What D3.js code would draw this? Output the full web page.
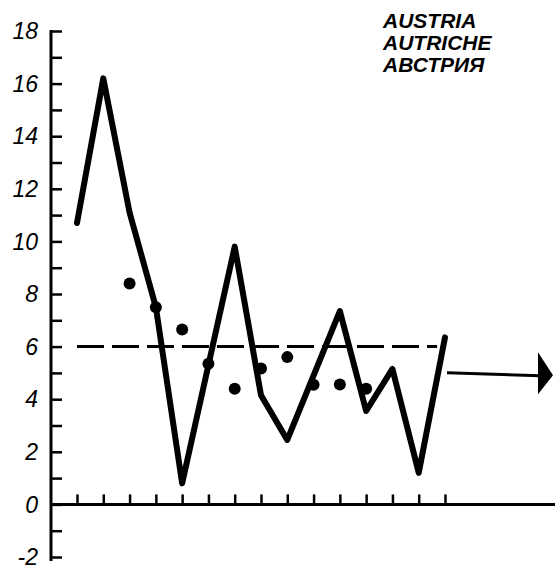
<!DOCTYPE html>
<html>
<head>
<meta charset="utf-8">
<script src="https://cdn.jsdelivr.net/npm/d3@7"></script>
<style>
  html, body { margin: 0; padding: 0; background: #fff; }
  svg { display: block; }
</style>
</head>
<body>
<script>
// ---- data ----
const titleLines = ["AUSTRIA", "AUTRICHE", "АВСТРИЯ"];
const xTicks = [0,1,2,3,4,5,6,7,8,9,10,11,12,13,14];
const yTicks = [-2,-1,0,1,2,3,4,5,6,7,8,9,10,11,12,13,14,15,16,17,18];
const yTickLabels = [-2,0,2,4,6,8,10,12,14,16,18];
const lineX = [0,1,2,3,4,6,7,8,10,11,12,13,14];
const lineY = [10.7,16.2,11.1,7.5,0.8,9.8,4.15,2.45,7.35,3.55,5.15,1.2,6.35];
const dotX = [2,3,4,5,6,7,8,9,10,11];
const dotY = [8.4,7.5,6.65,5.35,4.4,5.17,5.6,4.55,4.56,4.4];
const meanValue = 6.0;
const meanSpan = [0, 13.7];

// ---- drawing ----
const W = 555, H = 569;
const svg = d3.select("body").append("svg").attr("width", W).attr("height", H);

const x = d3.scaleLinear().domain([0, 14]).range([77, 445]);
const y = d3.scaleLinear().domain([-2, 18]).range([557, 31]);
const axisX = 51;

const labelFont = "'Liberation Sans', Arial, sans-serif";

// y axis
const yAxis = d3.axisRight(y).tickValues(yTicks).tickSize(11).tickFormat("");
const gy = svg.append("g").attr("transform", `translate(${axisX},0)`).call(yAxis);
gy.select(".domain").remove();
gy.selectAll(".tick line").attr("stroke", "#000").attr("stroke-width", 2.5);
svg.append("line")
  .attr("x1", axisX).attr("x2", axisX)
  .attr("y1", y(18) - 1).attr("y2", y(-2) + 4)
  .attr("stroke", "#000").attr("stroke-width", 3);

// y tick labels
svg.append("g").selectAll("text").data(yTickLabels).join("text")
  .attr("x", 38).attr("y", d => y(d))
  .attr("dy", "0.36em")
  .attr("text-anchor", "end")
  .attr("font-family", labelFont)
  .attr("font-style", "italic")
  .attr("font-size", 23)
  .attr("fill", "#000")
  .text(d => d < 0 ? "-" + Math.abs(d) : d);

// x axis
const xAxis = d3.axisTop(x).tickValues(xTicks).tickSize(10).tickFormat("");
const gx = svg.append("g").attr("transform", `translate(0,${y(0)})`).call(xAxis);
gx.select(".domain").remove();
gx.selectAll(".tick line").attr("stroke", "#000").attr("stroke-width", 2.5);
svg.append("line")
  .attr("x1", axisX).attr("x2", W)
  .attr("y1", y(0)).attr("y2", y(0))
  .attr("stroke", "#000").attr("stroke-width", 3);

// mean dashed line
svg.append("line")
  .attr("x1", x(meanSpan[0])).attr("x2", x(meanSpan[1]))
  .attr("y1", y(meanValue)).attr("y2", y(meanValue))
  .attr("stroke", "#000").attr("stroke-width", 3)
  .attr("stroke-dasharray", "27,8");

// main line
const pts = lineX.map((d, i) => [x(d), y(lineY[i])]);
svg.append("path")
  .attr("d", d3.line()(pts))
  .attr("fill", "none").attr("stroke", "#000")
  .attr("stroke-width", 6)
  .attr("stroke-linejoin", "round")
  .attr("stroke-linecap", "round");

// dots
svg.append("g").selectAll("circle").data(dotX).join("circle")
  .attr("cx", d => x(d)).attr("cy", (d, i) => y(dotY[i]))
  .attr("r", 6).attr("fill", "#000");

// arrow to the right
const ax0 = x(14) + 2, ay = y(4.95);
svg.append("line")
  .attr("x1", ax0).attr("y1", ay - 1.5)
  .attr("x2", 540).attr("y2", ay + 1.5)
  .attr("stroke", "#000").attr("stroke-width", 3);
svg.append("path")
  .attr("d", `M538,${ay - 22} L553,${ay + 1} L538,${ay + 20} Z`)
  .attr("fill", "#000");

// title
svg.append("g").selectAll("text").data(titleLines).join("text")
  .attr("x", 383).attr("y", (d, i) => 28 + i * 22)
  .attr("font-family", labelFont)
  .attr("font-style", "italic")
  .attr("font-weight", "bold")
  .attr("font-size", 21)
  .attr("fill", "#000")
  .text(d => d);
</script>
</body>
</html>
